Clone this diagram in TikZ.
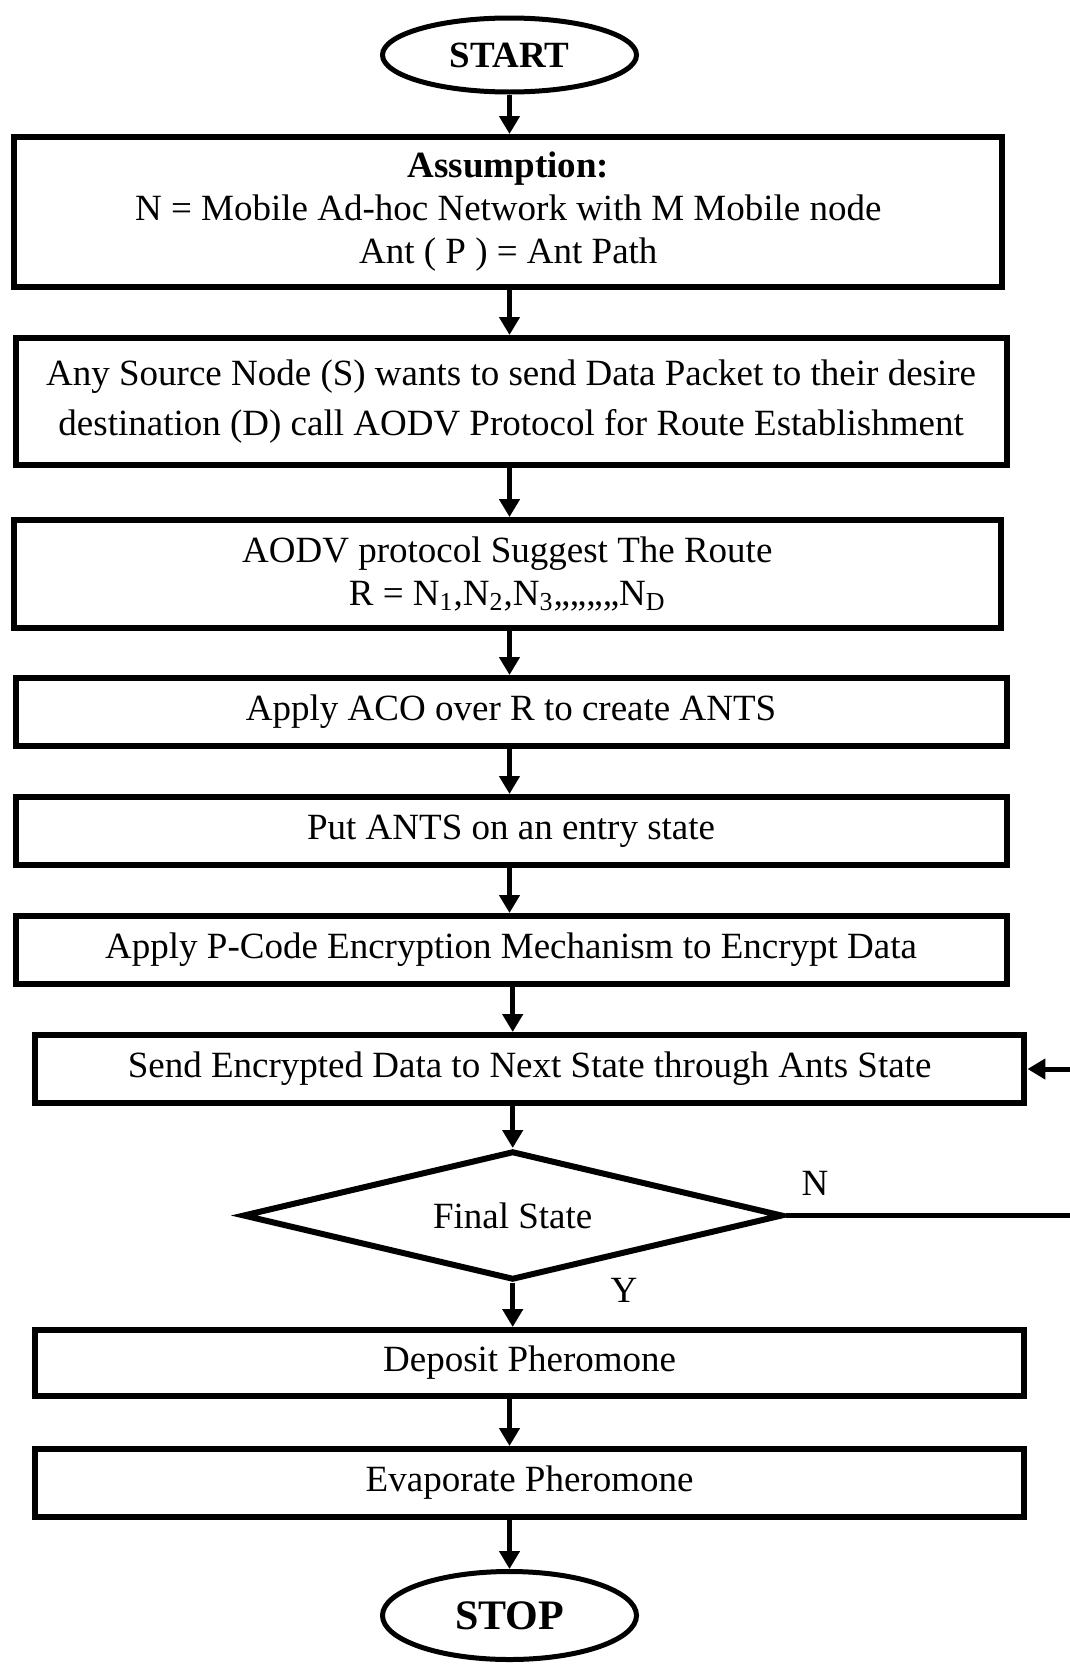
\documentclass[tikz,border=0pt]{standalone}
\usepackage{fontspec}
\setmainfont{Liberation Serif}
\usetikzlibrary{arrows.meta,shapes.geometric}
\tikzset{
  box/.style={
    draw,
    line width=3pt,
    align=center,
    inner sep=2pt,
    minimum width=494pt,
    minimum height=34pt,
    font=\fontsize{18.5}{21.5}\selectfont
  },
  terminal/.style={draw,ellipse,line width=2.5pt,inner sep=0pt,
                   minimum width=127pt,font=\bfseries\fontsize{18.5}{22}\selectfont},
  decision/.style={draw,diamond,aspect=4.2,line width=3pt,inner sep=0pt,
                   minimum width=270pt,minimum height=64.5pt,
                   font=\fontsize{18.5}{21.5}\selectfont},
  flow/.style={-{Triangle[length=9pt,width=10pt]},line width=2.5pt},
  tag/.style={font=\fontsize{18.5}{21.5}\selectfont}
}

\begin{document}
\begin{tikzpicture}[x=0.5pt,y=-0.5pt]
  \useasboundingbox (0,0) rectangle (1070,1665);

  % Start and set-up.
  \node[terminal,minimum height=37pt] (start) at (509.5,55) {START};
  \node[box,minimum height=75pt] (assume) at (508.3,212)
    {\textbf{Assumption:}\\N = Mobile Ad-hoc Network with M Mobile node\\Ant ( P ) = Ant Path};
  \node[box,minimum width=495.5pt,minimum height=63.5pt,font=\fontsize{18.5}{25}\selectfont] (source) at (511.1,401.5)
    {Any Source Node (S) wants to send Data Packet to their desire\\destination (D) call AODV Protocol for Route Establishment};
  \node[box,minimum width=493.5pt,minimum height=53.75pt] (aodv) at (507.3,573.8)
    {AODV protocol Suggest The Route\\R = N\textsubscript{1},N\textsubscript{2},N\textsubscript{3},,,,,,,,N\textsubscript{D}};

  % Ant colony steps.
  \node[box,minimum width=495.5pt] (aco) at (511.1,712) {Apply ACO over R to create ANTS};
  \node[box,minimum width=495.5pt] (entry) at (511.1,831) {Put ANTS on an entry state};
  \node[box,minimum width=495.5pt] (encrypt) at (511.1,950) {Apply P-Code Encryption Mechanism to Encrypt Data};
  \node[box,minimum width=494.85pt] (send) at (529.6,1069) {Send Encrypted Data to Next State through Ants State};
  \node[decision] (final) at (512.7,1215.5) {Final State};

  % Pheromone update and end.
  \node[box,minimum width=494.85pt,minimum height=33pt] (deposit) at (529.6,1363) {Deposit Pheromone};
  \node[box,minimum width=494.85pt] (evap) at (529.6,1483) {Evaporate Pheromone};
  \node[terminal,minimum height=44pt,font=\bfseries\fontsize{21}{25}\selectfont] (stop) at (509.5,1615.5) {STOP};

  \node[tag] (ylab) at (624,1290) {Y};
  \node[tag] (nlab) at (815,1183.5) {N};
  \coordinate (back) at (1085,1215.5);

  \draw[flow] (start) -- (start |- assume.north);
  \draw[flow] (assume.south -| start) -- (start |- source.north);
  \draw[flow] (source.south -| start) -- (start |- aodv.north);
  \draw[flow] (aodv.south -| start) -- (start |- aco.north);
  \draw[flow] (aco.south -| start) -- (start |- entry.north);
  \draw[flow] (entry.south -| start) -- (start |- encrypt.north);
  \draw[flow] (encrypt.south -| final) -- (final |- send.north);
  \draw[flow] (send.south -| final) -- (final.north);
  \draw[flow] (final.south) -- (final |- deposit.north);
  \draw[flow] (deposit.south -| stop) -- (stop |- evap.north);
  \draw[flow] (evap.south -| stop) -- (stop.north);
  \draw[flow] (final.east) -- (back) |- (send.east);
\end{tikzpicture}
\end{document}
